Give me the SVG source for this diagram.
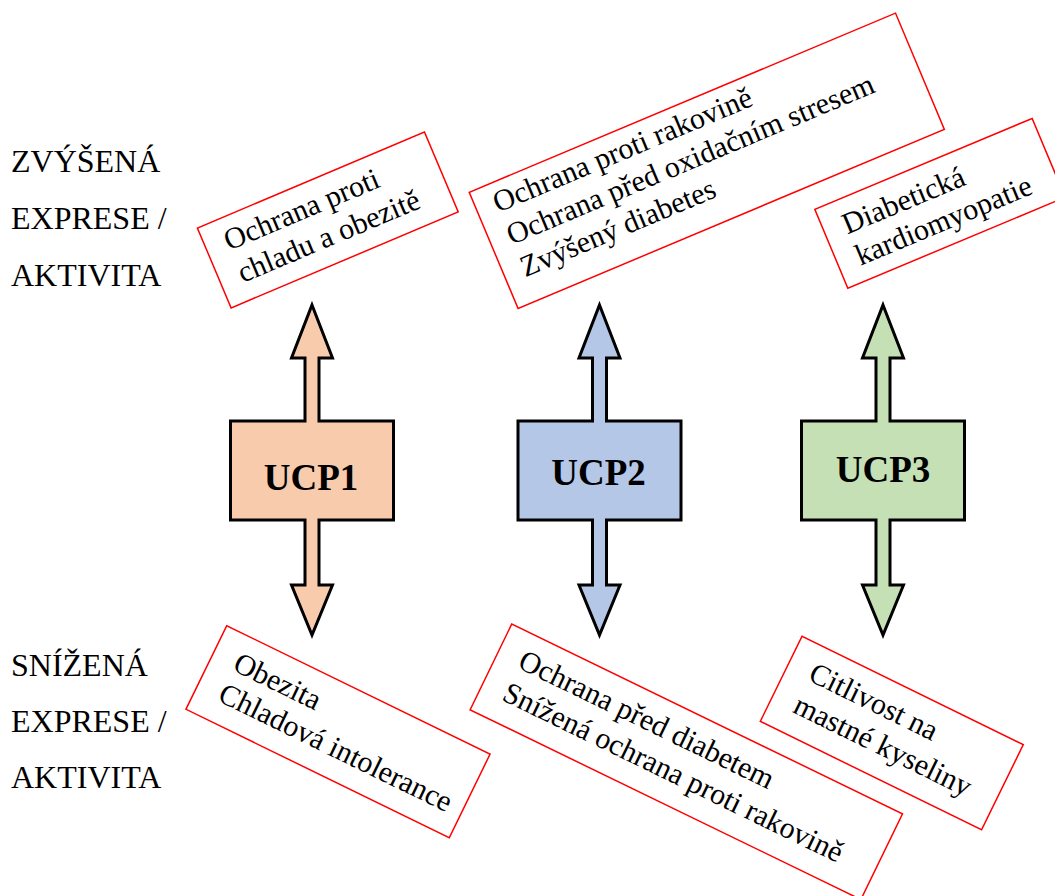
<svg xmlns="http://www.w3.org/2000/svg" width="1055" height="896" viewBox="0 0 1055 896">
<style>
.lbl{font-family:"Liberation Serif","Times New Roman",serif;font-size:32px;fill:#000}
.bt{font-family:"Liberation Serif","Times New Roman",serif;font-size:30px;fill:#000}
.ucp{font-family:"Liberation Serif","Times New Roman",serif;font-size:37px;font-weight:bold;fill:#000;text-anchor:middle}
.rb{fill:#fff;stroke:#ff0000;stroke-width:1.5}
.arr{stroke:#000;stroke-width:3;stroke-linejoin:miter}
</style>
<rect width="1055" height="896" fill="#fff"/>
<g id="labels">
<text class="lbl" x="11" y="172">ZVÝŠENÁ</text>
<text class="lbl" x="11" y="229">EXPRESE /</text>
<text class="lbl" x="11" y="286">AKTIVITA</text>
<text class="lbl" x="11" y="676">SNÍŽENÁ</text>
<text class="lbl" x="11" y="732">EXPRESE /</text>
<text class="lbl" x="11" y="788">AKTIVITA</text>
</g>
<g id="connectors"></g>
<g id="ucp1">
<path class="arr" fill="#F8CBAD" d="M312,305 L332.5,358 L319,358 L319,421 L393.5,421 L393.5,520 L319,520 L319,585 L332.5,585 L312,635 L291.5,585 L305,585 L305,520 L230.5,520 L230.5,421 L305,421 L305,358 L291.5,358 Z"/>
<text class="ucp" x="311" y="490">UCP1</text>
</g>
<g id="ucp2">
<path class="arr" fill="#B4C7E7" d="M599.5,305 L620,358 L606.5,358 L606.5,421 L681,421 L681,520 L606.5,520 L606.5,585 L620,585 L599.5,635 L579,585 L592.5,585 L592.5,520 L518,520 L518,421 L592.5,421 L592.5,358 L579,358 Z"/>
<text class="ucp" x="598.5" y="485">UCP2</text>
</g>
<g id="ucp3">
<path class="arr" fill="#C5E0B4" d="M883,305 L903.5,358 L890,358 L890,421 L964.5,421 L964.5,520 L890,520 L890,585 L903.5,585 L883,635 L862.5,585 L876,585 L876,520 L801.5,520 L801.5,421 L876,421 L876,358 L862.5,358 Z"/>
<text class="ucp" x="883" y="482">UCP3</text>
</g>
<g id="box1" transform="translate(327.8,220) rotate(-22.9)">
<rect class="rb" x="-123.25" y="-43.35" width="246.5" height="86.7"/>
<text class="bt" x="-103" y="-10">Ochrana proti</text>
<text class="bt" x="-103" y="25">chladu a obezitě</text>
</g>
<g id="box2" transform="translate(706.8,160.8) rotate(-22.8)">
<rect class="rb" x="-231.2" y="-63" width="462.4" height="126"/>
<text class="bt" x="-212.5" y="-33">Ochrana proti rakovině</text>
<text class="bt" x="-212.5" y="2">Ochrana před oxidačním stresem</text>
<text class="bt" x="-212.5" y="37">Zvýšený diabetes</text>
</g>
<g id="box3" transform="translate(940,203.3) rotate(-22.7)">
<rect class="rb" x="-117.8" y="-42.75" width="235.6" height="85.5"/>
<text class="bt" x="-97.5" y="-7">Diabetická</text>
<text class="bt" x="-97.5" y="27">kardiomyopatie</text>
</g>
<g id="box4" transform="translate(338,731.7) rotate(26)">
<rect class="rb" x="-146.5" y="-46.5" width="293" height="93"/>
<text class="bt" x="-123" y="-9">Obezita</text>
<text class="bt" x="-123" y="25">Chladová intolerance</text>
</g>
<g id="box5" transform="translate(686.3,761.8) rotate(25.9)">
<rect class="rb" x="-217.2" y="-47.65" width="434.4" height="95.3"/>
<text class="bt" x="-194" y="-11">Ochrana před diabetem</text>
<text class="bt" x="-194" y="25">Snížená ochrana proti rakovině</text>
</g>
<g id="box6" transform="translate(891.8,733) rotate(26.1)">
<rect class="rb" x="-123.2" y="-47.4" width="246.4" height="94.8"/>
<text class="bt" x="-99.5" y="-10.5">Citlivost na</text>
<text class="bt" x="-99.5" y="25">mastné kyseliny</text>
</g>
</svg>
